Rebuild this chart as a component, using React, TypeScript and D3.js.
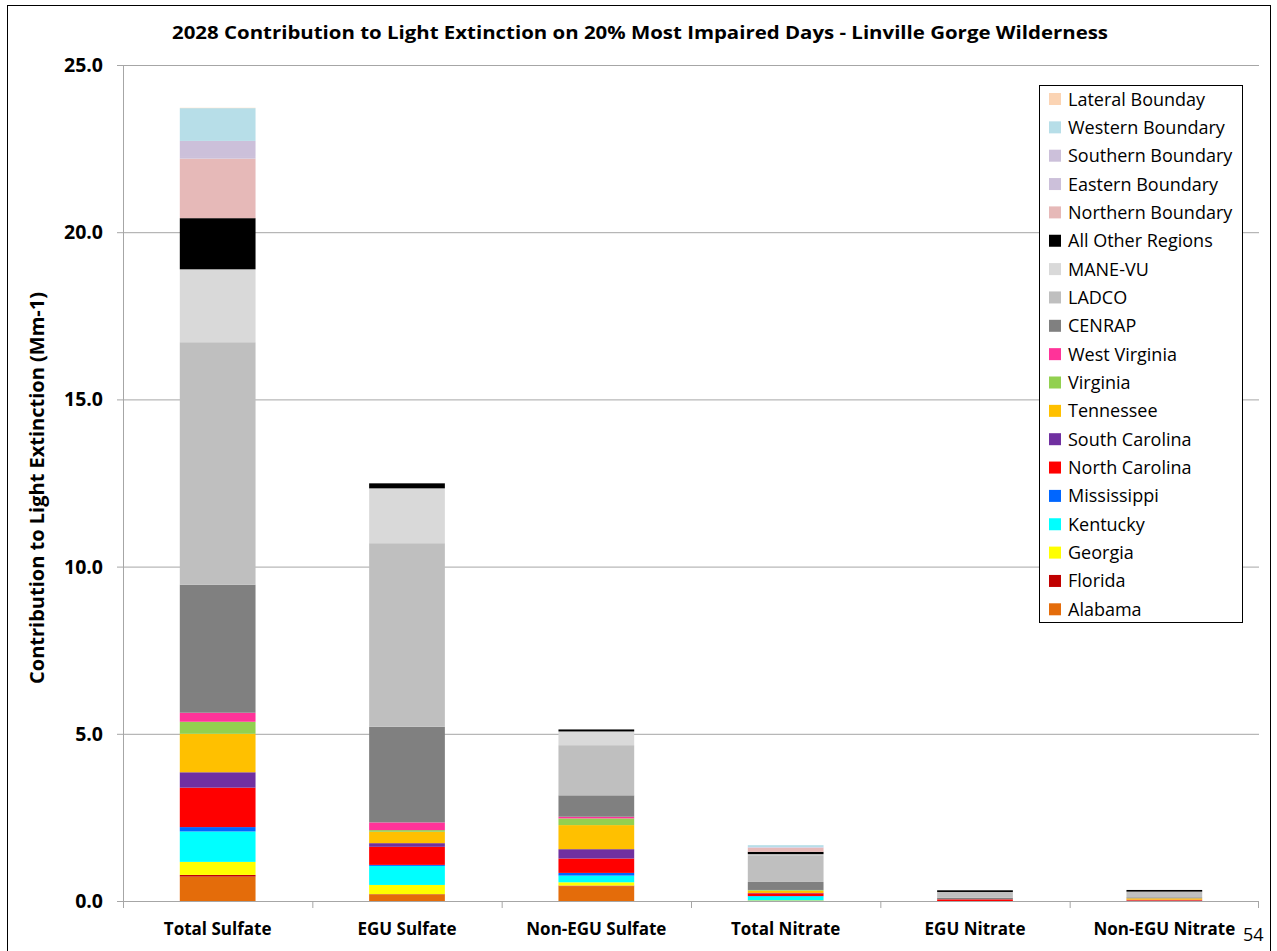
import React from "react";
import * as d3 from "d3";

const categories = ["Total Sulfate", "EGU Sulfate", "Non-EGU Sulfate", "Total Nitrate", "EGU Nitrate", "Non-EGU Nitrate"];

// stacking order bottom -> top
const regions = [
  "Alabama", "Florida", "Georgia", "Kentucky", "Mississippi", "North Carolina", "South Carolina",
  "Tennessee", "Virginia", "West Virginia", "CENRAP", "LADCO", "MANE-VU", "All Other Regions",
  "Northern Boundary", "Eastern Boundary", "Southern Boundary", "Western Boundary", "Lateral Bounday",
];

const alabama = [0.73, 0.18, 0.44, 0.01, 0.0, 0.0];
const florida = [0.05, 0.02, 0.02, 0.0, 0.0, 0.0];
const georgia = [0.39, 0.28, 0.10, 0.01, 0.0, 0.0];
const kentucky = [0.91, 0.57, 0.20, 0.12, 0.0, 0.01];
const mississippi = [0.13, 0.03, 0.08, 0.01, 0.0, 0.0];
const northCarolina = [1.18, 0.54, 0.43, 0.08, 0.05, 0.03];
const southCarolina = [0.46, 0.11, 0.28, 0.01, 0.0, 0.0];
const tennessee = [1.15, 0.34, 0.72, 0.07, 0.0, 0.04];
const virginia = [0.36, 0.05, 0.20, 0.02, 0.0, 0.0];
const westVirginia = [0.27, 0.23, 0.05, 0.0, 0.0, 0.0];
const cenrap = [3.83, 2.86, 0.64, 0.24, 0.05, 0.03];
const ladco = [7.25, 5.49, 1.50, 0.80, 0.17, 0.17];
const maneVu = [2.18, 1.64, 0.41, 0.03, 0.0, 0.0];
const allOther = [1.53, 0.15, 0.06, 0.07, 0.05, 0.05];
const northern = [1.78, 0.0, 0.0, 0.12, 0.0, 0.0];
const eastern = [0.05, 0.0, 0.0, 0.01, 0.0, 0.0];
const southern = [0.48, 0.0, 0.0, 0.01, 0.0, 0.0];
const western = [0.98, 0.0, 0.0, 0.06, 0.0, 0.0];
const lateral = [0.01, 0.0, 0.0, 0.0, 0.0, 0.0];

const seriesValues = [
  alabama, florida, georgia, kentucky, mississippi, northCarolina, southCarolina, tennessee,
  virginia, westVirginia, cenrap, ladco, maneVu, allOther, northern, eastern, southern, western, lateral,
];

const colors = [
  "#E46C0A", "#C00000", "#FFFF00", "#00FFFF", "#0066FF", "#FF0000", "#7030A0", "#FFC000",
  "#92D050", "#FF3399", "#808080", "#BFBFBF", "#D9D9D9", "#000000", "#E6B9B8", "#CCC0DA",
  "#CCC0DA", "#B7DEE8", "#FBD4B4",
];

const yTicks = [0, 5, 10, 15, 20, 25];

const W = 1277;
const H = 951;
const M = { left: 123, right: 1259, top: 65, bottom: 901 };
const FONT = "'Open Sans', Lato, sans-serif";

export default function App() {
  const x = d3.scaleBand<string>().domain(categories).range([M.left, M.right]).paddingInner(0.6).paddingOuter(0.3);
  const xOuter = d3.scaleBand<string>().domain(categories).range([M.left, M.right]);
  const y = d3.scaleLinear().domain([0, 25]).range([M.bottom, M.top]);

  const table = categories.map((c, i) => {
    const row: Record<string, number | string> = { cat: c };
    regions.forEach((r, k) => (row[r] = seriesValues[k][i]));
    return row;
  });
  const stack = d3.stack<Record<string, number | string>>().keys(regions).value((d, k) => d[k] as number);
  const stacked = stack(table);

  const legendOrder = regions.map((r, i) => ({ r, c: colors[i] })).reverse();
  const legX = 1039, legY = 85, legW = 203, legH = 537;
  const itemStep = 28.35;

  return (
    <svg width={W} height={H} style={{ position: "absolute", left: 0, top: 0, display: "block", background: "#fff" }}>
      <rect x={7.5} y={5.5} width={1263} height={960} fill="#fff" stroke="#000" strokeWidth={1} />
      <text x={640} y={39} textAnchor="middle" fontFamily={FONT} fontWeight="bold" fontSize={18.5} fill="#000"
        textLength={936} lengthAdjust="spacingAndGlyphs">
        2028 Contribution to Light Extinction on 20% Most Impaired Days - Linville Gorge Wilderness
      </text>
      {/* gridlines */}
      {yTicks.map((t) => (
        <g key={t}>
          <line x1={M.left - 6} x2={M.right} y1={y(t) + 0.5} y2={y(t) + 0.5} stroke="#a6a6a6" strokeWidth={1} />
          <text x={103} y={y(t) + 7} textAnchor="end" fontFamily={FONT} fontWeight="bold" fontSize={19.5} fill="#000">
            {t.toFixed(1)}
          </text>
        </g>
      ))}
      <line x1={M.left + 0.5} x2={M.left + 0.5} y1={M.top} y2={M.bottom} stroke="#a6a6a6" />
      {/* bars */}
      {stacked.map((s, k) => (
        <g key={regions[k]} fill={colors[k]}>
          {s.map((d, i) => {
            const h = y(d[0]) - y(d[1]);
            if (h <= 0) return null;
            return <rect key={i} x={x(categories[i])} width={x.bandwidth()} y={y(d[1])} height={h} />;
          })}
        </g>
      ))}
      {/* x axis */}
      <line x1={M.left} x2={M.right} y1={M.bottom + 0.5} y2={M.bottom + 0.5} stroke="#a6a6a6" />
      {categories.map((c, i) => (
        <line key={"t" + i} x1={xOuter(c)! + 0.5} x2={xOuter(c)! + 0.5} y1={M.bottom} y2={M.bottom + 7} stroke="#a6a6a6" />
      ))}
      <line x1={M.right - 0.5} x2={M.right - 0.5} y1={M.bottom} y2={M.bottom + 7} stroke="#a6a6a6" />
      {categories.map((c) => (
        <text key={c} x={xOuter(c)! + xOuter.bandwidth() / 2} y={935} textAnchor="middle" fontFamily={FONT} fontWeight="bold" fontSize={17} fill="#000">
          {c}
        </text>
      ))}
      <text transform={`translate(44, 488) rotate(-90)`} textAnchor="middle" fontFamily={FONT} fontWeight="bold" fontSize={20} fill="#000">
        Contribution to Light Extinction (Mm-1)
      </text>
      {/* legend */}
      <rect x={legX + 0.5} y={legY + 0.5} width={legW} height={legH} fill="#fff" stroke="#000" />
      {legendOrder.map((d, i) => (
        <g key={d.r}>
          <rect x={1049} y={93 + i * itemStep} width={12} height={12} fill={d.c} />
          <text x={1068} y={105.5 + i * itemStep} fontFamily={FONT} fontSize={18} fill="#000">
            {d.r}
          </text>
        </g>
      ))}
      <text x={1243} y={941} fontFamily={FONT} fontSize={18} fill="#000">54</text>
    </svg>
  );
}
